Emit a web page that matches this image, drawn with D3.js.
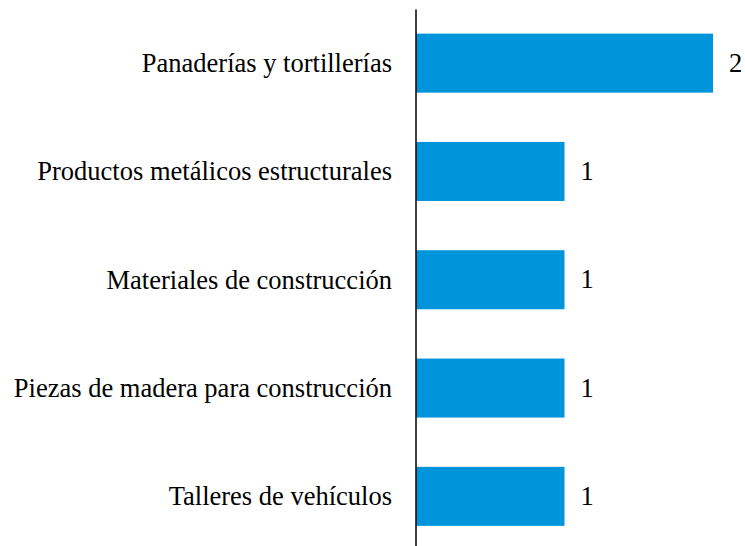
<!DOCTYPE html>
<html>
<head>
<meta charset="utf-8">
<script src="https://cdn.jsdelivr.net/npm/d3@7"></script>
<style>
  body { margin: 0; background: #fff; }
</style>
</head>
<body>
<svg width="745" height="546"></svg>
<script>
// chart data
var categories = [
    'Panaderías y tortillerías',
    'Productos metálicos estructurales',
    'Materiales de construcción',
    'Piezas de madera para construcción',
    'Talleres de vehículos'
];
var values = [2, 1, 1, 1, 1];

var serif = "'Times New Roman', 'Liberation Serif', 'DejaVu Serif', serif";

var svg = d3.select('svg');
var svgWidth = +svg.attr('width');
var svgHeight = +svg.attr('height');

var axisX = 416;

var xScale = d3.scaleLinear()
    .domain([0, 2])
    .range([axisX, 713]);

var yScale = d3.scaleBand()
    .domain(categories)
    .range([9, 550.5])
    .paddingInner(0.455)
    .paddingOuter(0.2275);

var rows = categories.map(function(c, i) {
    return {name: c, value: values[i]};
});

// bars
svg.selectAll('.bar')
    .data(rows)
    .enter()
    .append('rect')
    .attr('class', 'bar')
    .attr('x', xScale(0))
    .attr('y', function(d) { return yScale(d.name); })
    .attr('width', function(d) { return xScale(d.value) - xScale(0); })
    .attr('height', yScale.bandwidth())
    .attr('fill', '#0095DA');

// value labels
svg.selectAll('.value')
    .data(rows)
    .enter()
    .append('text')
    .attr('class', 'value')
    .attr('x', function(d) { return xScale(d.value) + 16; })
    .attr('y', function(d) { return yScale(d.name) + yScale.bandwidth() / 2; })
    .attr('dy', '0.33em')
    .attr('font-family', serif)
    .attr('font-size', 26.5)
    .attr('fill', '#000')
    .text(function(d) { return d.value; });

// category axis
var yAxis = d3.axisLeft(yScale).tickSize(0).tickPadding(24);
var axisG = svg.append('g')
    .attr('transform', 'translate(' + axisX + ',0)')
    .call(yAxis)
    .attr('font-family', serif)
    .attr('font-size', 26.5);
axisG.select('.domain').remove();
axisG.selectAll('text')
    .attr('dy', '0.33em')
    .attr('fill', '#000');

svg.append('line')
    .attr('x1', axisX).attr('x2', axisX)
    .attr('y1', 9.5).attr('y2', svgHeight)
    .attr('stroke', '#000')
    .attr('stroke-width', 1.5);
</script>
</body>
</html>
